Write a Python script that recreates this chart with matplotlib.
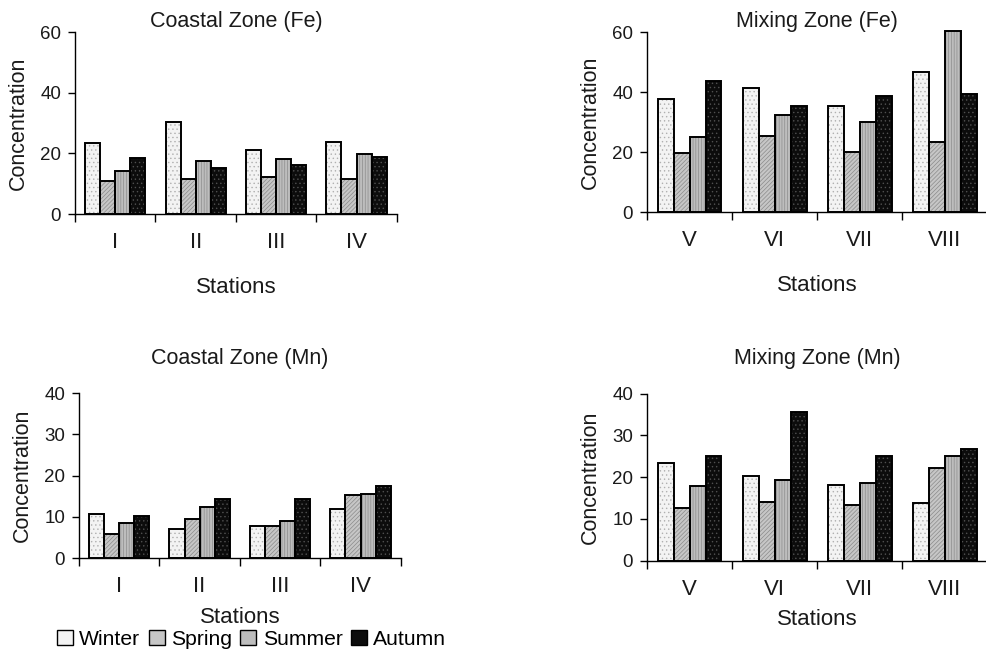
import matplotlib
matplotlib.use('Agg')
import matplotlib.pyplot as plt
from matplotlib.patches import Patch
import numpy

plt.rcParams['font.family'] = ['Liberation Sans', 'DejaVu Sans']
plt.rcParams['hatch.linewidth'] = 0.5

seasons = ['Winter', 'Spring', 'Summer', 'Autumn']

coastalStations = ['I', 'II', 'III', 'IV']
mixingStations = ['V', 'VI', 'VII', 'VIII']

# values per season, one entry per station
coastalFe = {
	'Winter': [23.4, 30.4, 21.0, 23.9],
	'Spring': [11.0, 11.7, 12.2, 11.6],
	'Summer': [14.3, 17.6, 18.2, 19.9],
	'Autumn': [18.4, 15.1, 16.2, 18.9],
}
mixingFe = {
	'Winter': [37.6, 41.5, 35.3, 46.7],
	'Spring': [19.6, 25.3, 20.0, 23.5],
	'Summer': [25.2, 32.5, 30.2, 60.5],
	'Autumn': [43.8, 35.4, 38.7, 39.3],
}
coastalMn = {
	'Winter': [10.7, 7.0, 7.8, 11.9],
	'Spring': [5.8, 9.4, 7.8, 15.2],
	'Summer': [8.6, 12.3, 9.0, 15.6],
	'Autumn': [10.3, 14.4, 14.4, 17.4],
}
mixingMn = {
	'Winter': [23.4, 20.2, 18.2, 13.7],
	'Spring': [12.5, 14.1, 13.3, 22.3],
	'Summer': [17.8, 19.3, 18.6, 25.0],
	'Autumn': [25.1, 35.6, 25.1, 26.8],
}

# face colour, hatch, hatch colour
styles = {
	'Winter': ('#f3f3f3', '....', '#b0b0b0'),
	'Spring': ('#c6c6c6', '////////', '#8a8a8a'),
	'Summer': ('#bdbdbd', '||||||', '#8c8c8c'),
	'Autumn': ('#0c0c0c', '....', '#505050'),
}

textColor = '#1a1a1a'


def drawPanel(ax, values, stations, title, yMax, yStep, labelPad, titlePad):
	n = len(stations)
	barWidth = 0.75 / len(seasons)
	x = numpy.arange(n)
	for i, season in enumerate(seasons):
		face, hatch, hatchColor = styles[season]
		pos = x + 0.125 + barWidth * (i + 0.5)
		ax.bar(pos, values[season], barWidth, color=face, edgecolor='none', clip_on=False, zorder=2)
		ax.bar(pos, values[season], barWidth, color='none', edgecolor=hatchColor, hatch=hatch,
			   linewidth=0, clip_on=False, zorder=3)
		ax.bar(pos, values[season], barWidth, color='none', edgecolor='black', linewidth=1.4,
			   clip_on=False, zorder=4)

	ax.set_xlim(0, n)
	ax.set_ylim(0, yMax)
	ax.set_yticks(numpy.arange(0, yMax + 1, yStep))
	ax.set_xticks(numpy.arange(0, n + 1))
	ax.set_xticklabels([])
	ax.set_xticks(x + 0.5, minor=True)
	ax.set_xticklabels(stations, minor=True, fontsize=16, color=textColor)
	ax.tick_params(axis='x', which='major', direction='out', length=6, width=1)
	ax.tick_params(axis='x', which='minor', length=0, pad=13)
	ax.tick_params(axis='y', direction='out', length=5, width=1, pad=5, labelsize=13.5, labelcolor=textColor)

	for side in ['top', 'right']:
		ax.spines[side].set_visible(False)
	for side in ['left', 'bottom']:
		ax.spines[side].set_linewidth(1)

	ax.set_title(title, fontsize=15.5, color=textColor, pad=titlePad)
	ax.set_ylabel('Concentration', fontsize=15.5, color=textColor, labelpad=8)
	ax.set_xlabel('Stations', fontsize=16, color=textColor, labelpad=labelPad)


fig = plt.figure(figsize=(9.87, 6.55), dpi=100)

ax1 = fig.add_axes([0.076, 0.673, 0.326, 0.278])
ax2 = fig.add_axes([0.6555, 0.676, 0.345, 0.275])
ax3 = fig.add_axes([0.080, 0.148, 0.326, 0.252])
ax4 = fig.add_axes([0.6555, 0.144, 0.345, 0.255])

drawPanel(ax1, coastalFe, coastalStations, 'Coastal Zone (Fe)', 60, 20, 17, 3)
drawPanel(ax2, mixingFe, mixingStations, 'Mixing Zone (Fe)', 60, 20, 17, 3)
drawPanel(ax3, coastalMn, coastalStations, 'Coastal Zone (Mn)', 40, 10, 7, 21)
drawPanel(ax4, mixingMn, mixingStations, 'Mixing Zone (Mn)', 40, 10, 7, 21)

handles = []
for s in seasons:
	face, hatch, hatchColor = styles[s]
	handles.append(Patch(facecolor=face, edgecolor='black', linewidth=1, label=s))
fig.legend(handles=handles, loc='lower left', bbox_to_anchor=(0.045, -0.01), ncol=4, frameon=False,
		   fontsize=15.2, handlelength=0.75, handleheight=0.75, handletextpad=0.3, columnspacing=0.4,
		   borderaxespad=0.2)

fig.savefig('out.png', dpi=100)
